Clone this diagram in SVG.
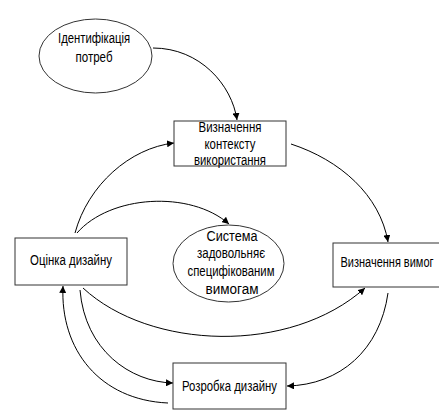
<svg xmlns="http://www.w3.org/2000/svg" width="439" height="410" viewBox="0 0 439 410">
<defs>
<marker id="ah" viewBox="0 0 10 10" refX="10" refY="5" markerWidth="7" markerHeight="7" markerUnits="userSpaceOnUse" orient="auto">
<path d="M0,0 L10,5 L0,10 z" fill="#000"/>
</marker>
<style>
.n{fill:#fff;stroke:#333;stroke-width:1}
.t{font-family:"Liberation Sans",Arial,sans-serif;font-size:14px;fill:#000;text-anchor:middle}
.e{fill:none;stroke:#000;stroke-width:1;marker-end:url(#ah)}
</style>
</defs>
<rect width="439" height="410" fill="#fff"/>
<g id="connectors">
<path class="e" d="M153,48 C200,48 232,85 237,120"/>
<path class="e" d="M291,144 C340,160 380,195 388,242"/>
<path class="e" d="M75,233 C88,185 130,148 174,143"/>
<path class="e" d="M77,233 C110,195 190,190 229,224"/>
<path class="e" d="M83,288 C150,350 290,355 365,288"/>
<path class="e" d="M388,293 C380,350 340,385 287,386"/>
<path class="e" d="M80,290 C85,350 130,382 173,383"/>
<path class="e" d="M168,403 C100,400 60,350 63,286"/>
</g>
<g id="identify">
<ellipse class="n" cx="95.5" cy="56" rx="56.5" ry="37"/>
<text class="t" x="94" y="43" textLength="72" lengthAdjust="spacingAndGlyphs">Ідентифікація</text>
<text class="t" x="94" y="62" textLength="37" lengthAdjust="spacingAndGlyphs">потреб</text>
</g>
<g id="context">
<rect class="n" x="174" y="121" width="112" height="45"/>
<text class="t" x="230" y="132" textLength="63" lengthAdjust="spacingAndGlyphs">Визначення</text>
<text class="t" x="230" y="149" textLength="51" lengthAdjust="spacingAndGlyphs">контексту</text>
<text class="t" x="230" y="165" textLength="72" lengthAdjust="spacingAndGlyphs">використання</text>
</g>
<g id="evaluate">
<rect class="n" x="15" y="238" width="112" height="47"/>
<text class="t" x="71" y="265" textLength="82" lengthAdjust="spacingAndGlyphs">Оцінка дизайну</text>
</g>
<g id="system">
<ellipse class="n" cx="228.5" cy="263.5" rx="55.5" ry="38.5"/>
<text class="t" x="232" y="241" textLength="51" lengthAdjust="spacingAndGlyphs">Система</text>
<text class="t" x="231" y="258" textLength="68" lengthAdjust="spacingAndGlyphs">задовольняє</text>
<text class="t" x="231" y="276" textLength="87" lengthAdjust="spacingAndGlyphs">специфікованим</text>
<text class="t" x="232" y="294" textLength="53" lengthAdjust="spacingAndGlyphs">вимогам</text>
</g>
<g id="requirements">
<rect class="n" x="333" y="243" width="112" height="44"/>
<text class="t" x="387" y="267" textLength="93" lengthAdjust="spacingAndGlyphs">Визначення вимог</text>
</g>
<g id="develop">
<rect class="n" x="173" y="363" width="113" height="46"/>
<text class="t" x="229.5" y="391" textLength="95" lengthAdjust="spacingAndGlyphs">Розробка дизайну</text>
</g>
</svg>
